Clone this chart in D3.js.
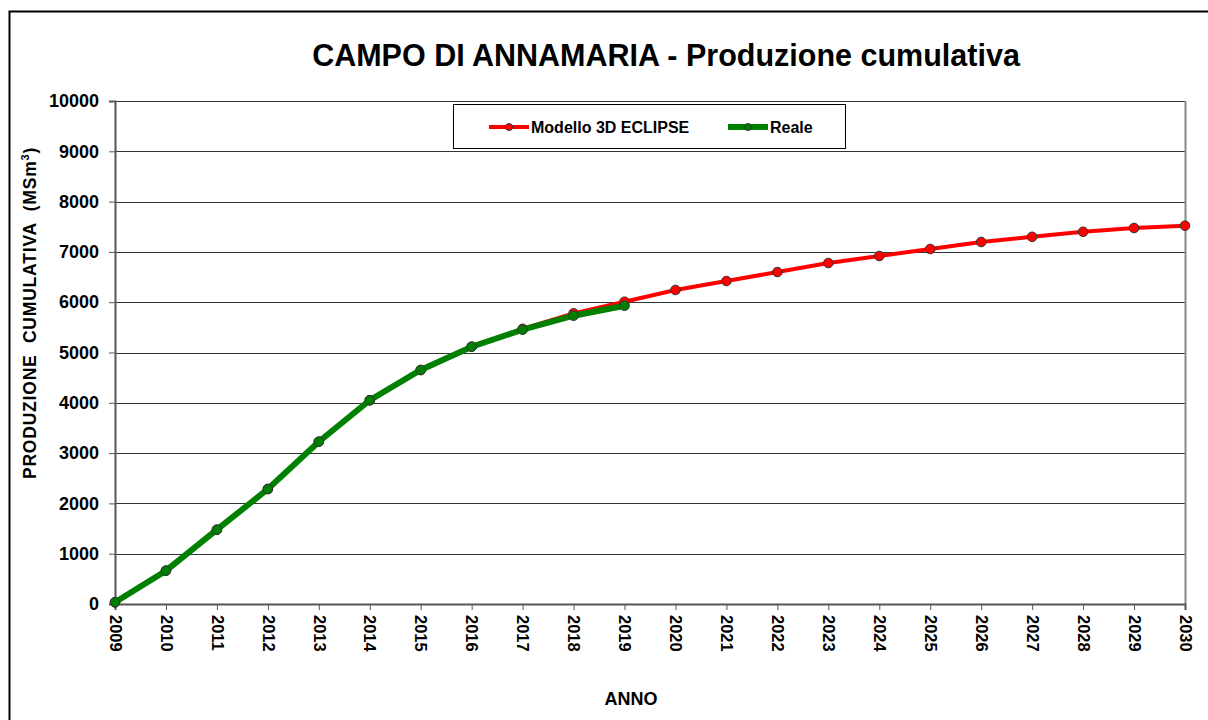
<!DOCTYPE html>
<html lang="it">
<head>
<meta charset="utf-8">
<title>Campo di Annamaria</title>
<script src="https://d3js.org/d3.v7.min.js"></script>
<style>
  body { margin: 0; background: #fff; font-family: "Liberation Sans", Arial, sans-serif; }
  svg text { font-family: "Liberation Sans", Arial, sans-serif; font-weight: bold; fill: #000; }
</style>
</head>
<body>
<div id="chart"></div>
<script>
// anni e valori (MSm3)
var years = d3.range(2009, 2031);
var modello = [34, 662, 1477, 2286, 3227, 4050, 4652, 5115, 5470, 5779, 6010,
               6243, 6421, 6600, 6779, 6918, 7058, 7197, 7300, 7400, 7475, 7521];
var reale = [34, 662, 1477, 2286, 3227, 4050, 4652, 5115, 5453, 5731, 5930];
var yTicks = [0, 1000, 2000, 3000, 4000, 5000, 6000, 7000, 8000, 9000, 10000];

var W = 1208, H = 720;
var pLeft = 115, pRight = 1185, pTop = 101, pBottom = 604;

var svg = d3.select("#chart").append("svg").attr("width", W).attr("height", H);

// cornice esterna
svg.append("rect").attr("x", 9.5).attr("y", 11.5).attr("width", 1210).attr("height", 720)
  .attr("fill", "none").attr("stroke", "#000").attr("stroke-width", 2);

var x = d3.scaleLinear().domain([2009, 2030]).range([pLeft, pRight]);
var y = d3.scaleLinear().domain([0, 10000]).range([pBottom, pTop]);

// griglia
svg.append("g").selectAll("line").data(yTicks.slice(1)).enter().append("line")
  .attr("x1", pLeft).attr("x2", pRight)
  .attr("y1", function(d){ return Math.round(y(d)) + 0.5; })
  .attr("y2", function(d){ return Math.round(y(d)) + 0.5; })
  .attr("stroke", "#333").attr("stroke-width", 1);

// bordo destro area
svg.append("line").attr("x1", pRight + 0.5).attr("x2", pRight + 0.5).attr("y1", pTop).attr("y2", pBottom)
  .attr("stroke", "#888").attr("stroke-width", 2);

// asse y
var yAxis = svg.append("g").attr("transform", "translate(" + pLeft + ",0)")
  .call(d3.axisLeft(y).tickValues(yTicks).tickSize(6).tickPadding(10).tickFormat(d3.format("d")));
yAxis.select(".domain").attr("stroke", "#555").attr("stroke-width", 2);
yAxis.selectAll(".tick line").attr("stroke", "#555");
yAxis.selectAll("text").style("font-size", "18px");

// asse x
var xAxis = svg.append("g").attr("transform", "translate(0," + pBottom + ")")
  .call(d3.axisBottom(x).tickValues(years).tickSize(6).tickFormat(d3.format("d")));
xAxis.select(".domain").attr("stroke", "#555").attr("stroke-width", 2);
xAxis.selectAll(".tick line").attr("stroke", "#555");
xAxis.selectAll("text").style("font-size", "16.5px")
  .attr("transform", "rotate(90)").attr("x", 11).attr("y", 0).attr("dy", "0.35em")
  .style("text-anchor", "start");

var line = d3.line().x(function(d, i){ return x(years[i]); }).y(function(d){ return y(d); });

// Modello
svg.append("path").datum(modello).attr("d", line).attr("fill", "none")
  .attr("stroke", "#ff0000").attr("stroke-width", 4);
svg.append("g").selectAll("circle").data(modello).enter().append("circle")
  .attr("cx", function(d, i){ return x(years[i]); }).attr("cy", function(d){ return y(d); })
  .attr("r", 4.8).attr("fill", "#ff0000").attr("stroke", "#333").attr("stroke-width", 1);

// Reale
svg.append("path").datum(reale).attr("d", line).attr("fill", "none")
  .attr("stroke", "#008000").attr("stroke-width", 6);
svg.append("g").selectAll("circle").data(reale).enter().append("circle")
  .attr("cx", function(d, i){ return x(years[i]); }).attr("cy", function(d){ return y(d); })
  .attr("r", 4.8).attr("fill", "#008000").attr("stroke", "#333").attr("stroke-width", 1);

// titolo
svg.append("text").attr("x", 666).attr("y", 66).attr("text-anchor", "middle")
  .style("font-size", "30.5px").text("CAMPO DI ANNAMARIA - Produzione cumulativa");

// etichetta asse y
var yl = svg.append("text").attr("transform", "translate(36,313) rotate(-90)")
  .attr("text-anchor", "middle").style("font-size", "17.5px")
  .style("white-space", "pre").style("letter-spacing", "0.8px");
yl.append("tspan").text("PRODUZIONE  CUMULATIVA  (MSm");
yl.append("tspan").attr("dy", -7).style("font-size", "11px").text("3");
yl.append("tspan").attr("dy", 7).text(")");

// etichetta asse x
svg.append("text").attr("x", 631).attr("y", 705).attr("text-anchor", "middle")
  .style("font-size", "18px").text("ANNO");

// legenda
var lg = svg.append("g");
lg.append("rect").attr("x", 453.5).attr("y", 104.5).attr("width", 392).attr("height", 44)
  .attr("fill", "#fff").attr("stroke", "#000").attr("stroke-width", 1);
var legend = [
  { name: "Modello 3D ECLIPSE", color: "#ff0000", w: 4, x0: 489 },
  { name: "Reale", color: "#008000", w: 6, x0: 728 }
];
legend.forEach(function(l){
  lg.append("line").attr("x1", l.x0).attr("x2", l.x0 + 40).attr("y1", 127).attr("y2", 127)
    .attr("stroke", l.color).attr("stroke-width", l.w);
  lg.append("circle").attr("cx", l.x0 + 20).attr("cy", 127).attr("r", 3.5)
    .attr("fill", l.color).attr("stroke", "#333").attr("stroke-width", 1);
  lg.append("text").attr("x", l.x0 + 42).attr("y", 132.5).style("font-size", "16px").text(l.name);
});
</script>
</body>
</html>
